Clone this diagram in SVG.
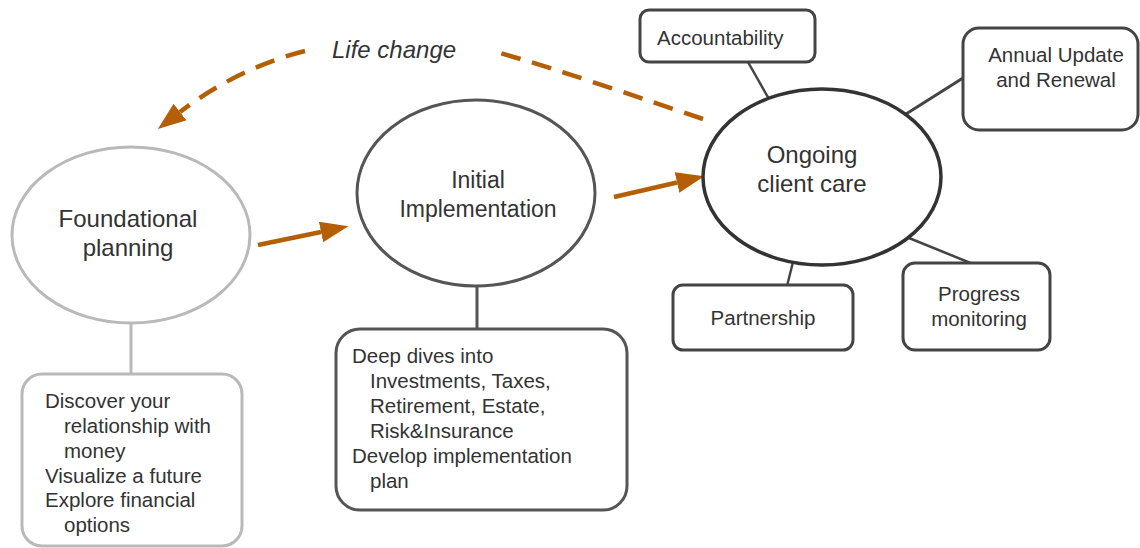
<svg xmlns="http://www.w3.org/2000/svg" width="1140" height="548" viewBox="0 0 1140 548">
<style>
.t{font-family:"Liberation Sans",Arial,sans-serif;fill:#333}
.big{font-size:24px}
.sm{font-size:20.5px}
.mid{text-anchor:middle}
.dark{fill:#fff;stroke:#444;stroke-width:3}
.light{fill:#fff;stroke:#b9b9b9;stroke-width:3}
.link{stroke:#444;stroke-width:2.5;fill:none}
.linklight{stroke:#b9b9b9;stroke-width:3;fill:none}
.flow{stroke:#b45f06;stroke-width:4.5;fill:none}
.dash{stroke-dasharray:20 12}
</style>
<defs>
<marker id="ah" markerUnits="userSpaceOnUse" markerWidth="30" markerHeight="22" refX="0" refY="10.5" orient="auto">
<path d="M0,0 L28,10.5 L0,21 z" fill="#b45f06"/>
</marker>
</defs>
<g id="connectors">
<line class="linklight" x1="131" y1="322" x2="131" y2="375"/>
<line class="link" x1="477" y1="285" x2="477" y2="330" style="stroke:#555;stroke-width:3"/>
<line class="link" x1="748" y1="62" x2="769" y2="99"/>
<line class="link" x1="963" y1="78" x2="906" y2="114" style="stroke-width:3"/>
<line class="link" x1="793" y1="262" x2="787" y2="286"/>
<line class="link" x1="909" y1="238" x2="973" y2="264"/>
<path class="flow" d="M258,245 L321,232" marker-end="url(#ah)"/>
<path class="flow" d="M614,197 L677,182.5" marker-end="url(#ah)"/>
<g id="life-change">
<path class="flow dash" d="M703,119 C640,98 560,70 500,53"/>
<path class="flow dash" d="M305,51 C260,62 215,85 180,112" marker-end="url(#ah)"/>
<text class="t big" x="332" y="58" style="font-style:italic">Life change</text>
</g>
</g>
<g id="foundational">
<ellipse class="light" cx="131" cy="235" rx="119" ry="88"/>
<text class="t big mid" x="128" y="227">Foundational</text>
<text class="t big mid" x="128" y="256">planning</text>
</g>
<g id="foundational-details">
<rect class="light" x="22" y="374" width="220" height="172" rx="20"/>
<text class="t sm" x="45" y="408">Discover your</text>
<text class="t sm" x="64" y="433">relationship with</text>
<text class="t sm" x="64" y="458">money</text>
<text class="t sm" x="45" y="483">Visualize a future</text>
<text class="t sm" x="45" y="507">Explore financial</text>
<text class="t sm" x="64" y="532">options</text>
</g>
<g id="initial">
<ellipse class="dark" cx="476" cy="193" rx="119" ry="93" style="stroke:#555"/>
<text class="t big mid" x="478" y="188" style="font-size:23px">Initial</text>
<text class="t big mid" x="478" y="217" style="font-size:23px">Implementation</text>
</g>
<g id="initial-details">
<rect class="dark" x="336" y="329" width="291" height="181" rx="24" style="stroke:#555"/>
<text class="t sm" x="352" y="363">Deep dives into</text>
<text class="t sm" x="370" y="388">Investments, Taxes,</text>
<text class="t sm" x="370" y="413">Retirement, Estate,</text>
<text class="t sm" x="370" y="438">Risk&amp;Insurance</text>
<text class="t sm" x="352" y="463">Develop implementation</text>
<text class="t sm" x="370" y="488">plan</text>
</g>
<g id="ongoing">
<ellipse class="dark" cx="822" cy="177" rx="119" ry="88" style="stroke:#333;stroke-width:3.5"/>
<text class="t big mid" x="812" y="163">Ongoing</text>
<text class="t big mid" x="812" y="192">client care</text>
</g>
<g id="accountability">
<rect class="dark" x="640" y="10" width="175" height="52" rx="9"/>
<text class="t sm" x="657" y="45">Accountability</text>
</g>
<g id="annual">
<rect class="dark" x="963" y="28" width="175" height="102" rx="16"/>
<text class="t sm mid" x="1056" y="62">Annual Update</text>
<text class="t sm mid" x="1056" y="87">and Renewal</text>
</g>
<g id="partnership">
<rect class="dark" x="673" y="285" width="180" height="65" rx="10"/>
<text class="t sm mid" x="763" y="325">Partnership</text>
</g>
<g id="progress">
<rect class="dark" x="903" y="263" width="147" height="87" rx="12"/>
<text class="t sm mid" x="979" y="301">Progress</text>
<text class="t sm mid" x="979" y="326">monitoring</text>
</g>
</svg>
